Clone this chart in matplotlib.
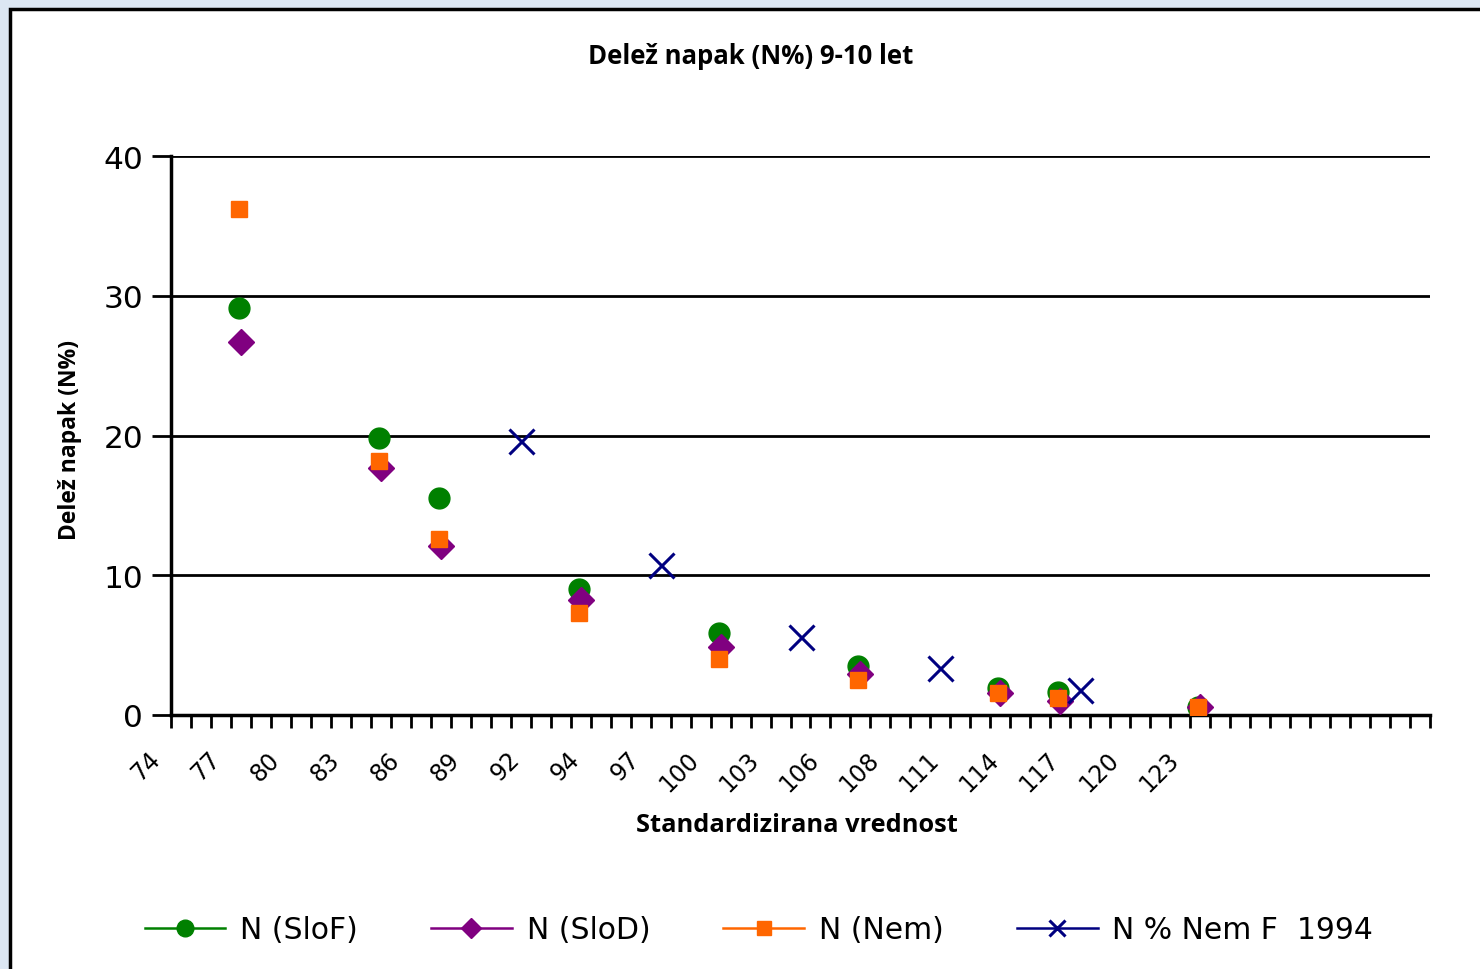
import matplotlib
matplotlib.use('Agg')
import numpy as np
import matplotlib.pyplot as plt
from matplotlib.patches import Rectangle
import matplotlib.transforms as mtransforms

# kategorije (63 kategorij, oznaka na vsako tretjo)
n_kat = 63
oznake = ['74', '77', '80', '83', '86', '89', '92', '94', '97', '100',
          '103', '106', '108', '111', '114', '117', '120', '123']

# podatki (indeks kategorije, delez napak)
kat_slo = [3, 10, 13, 20, 27, 34, 41, 44, 51]
slo_f = [29.1, 19.8, 15.5, 9.0, 5.9, 3.5, 1.9, 1.65, 0.6]
slo_d = [26.7, 17.7, 12.1, 8.2, 4.9, 2.9, 1.6, 1.0, 0.55]
nem = [36.2, 18.2, 12.6, 7.3, 4.0, 2.5, 1.55, 1.25, 0.55]

kat_nem94 = [17, 24, 31, 38, 45]
nem_f_1994 = [19.6, 10.7, 5.6, 3.35, 1.8]

fig = plt.figure(figsize=(14.8, 9.7), dpi=100)
fig.patch.set_facecolor('#dce7f3')
# okvir grafikona
fig.patches.append(Rectangle((10/1480, -0.1), 1.1, (960 + 97)/970, transform=fig.transFigure,
                             facecolor='white', edgecolor='black', linewidth=2.5, zorder=-5))

ax = fig.add_axes([171/1480, (970-716)/970, (1430-171)/1480, (716-157)/970])
ax.set_zorder(2)
ax.set_facecolor('white')

x = np.array(kat_slo) + 0.5
x2 = np.array(kat_nem94) + 0.5
ax.plot(x - 0.1, slo_f, linestyle='none', marker='o', color='#008000', ms=15,
        label='N (SloF)', zorder=3)
ax.plot(x, slo_d, linestyle='none', marker='D', color='#800080', ms=13,
        label='N (SloD)', zorder=4)
ax.plot(x - 0.1, nem, linestyle='none', marker='s', color='#FF6600', ms=12,
        label='N (Nem)', zorder=5)
ax.plot(x2, nem_f_1994, linestyle='none', marker='x', color='#000080', ms=18, mew=2.2,
        label='N % Nem F  1994', zorder=6)

ax.set_xlim(0, n_kat)
ax.set_ylim(0, 40)
ax.set_yticks([0, 10, 20, 30, 40])
ax.yaxis.grid(True, color='black', linewidth=2)
ax.set_axisbelow(True)
ax.tick_params(axis='y', labelsize=22.5, length=14, width=2, pad=6)

ax.set_xticks(np.arange(0, n_kat + 1), minor=True)
ax.set_xticks(np.arange(len(oznake)) * 3 + 0.5)
ax.set_xticklabels(oznake, rotation=45, ha='right', va='center', rotation_mode='anchor', fontsize=17)
ax.tick_params(axis='x', which='major', length=0, pad=29)
ax.tick_params(axis='x', which='minor', length=9, width=2, direction='out')
offset = mtransforms.ScaledTranslation(-25/100, 0, fig.dpi_scale_trans)
for lab in ax.get_xticklabels():
    lab.set_transform(lab.get_transform() + offset)

for s in ['top', 'right']:
    ax.spines[s].set_visible(False)
for s in ['left', 'bottom']:
    ax.spines[s].set_linewidth(2.5)

fig.text(751/1480, 1 - 56/970, 'Delež napak (N%) 9-10 let', ha='center', va='center',
         fontsize=18.5, fontweight='bold', family='Open Sans')
fig.text(797/1480, 1 - 826/970, 'Standardizirana vrednost', ha='center', va='center',
         fontsize=18.3, fontweight='bold', family='Open Sans')
fig.text(70/1480, 1 - 440/970, 'Delež napak (N%)', ha='center', va='center', rotation=90,
         fontsize=16.5, fontweight='bold', family='Open Sans')

# legenda s crtami
h = []
for ln in ax.get_lines():
    c = ln.get_color()
    ms = ln.get_markersize() * (0.65 if ln.get_marker() == 'x' else 0.8)
    h.append(plt.Line2D([], [], color=c, marker=ln.get_marker(), ms=ms,
                        mew=ln.get_markeredgewidth(), linewidth=1.8))
fig.legend(h, [l.get_label() for l in ax.get_lines()], loc='center', ncol=4,
           bbox_to_anchor=(759/1480, 1 - 931/970), frameon=False, fontsize=21.5,
           handlelength=2.7, columnspacing=2.45, handletextpad=0.5)

fig.savefig('out.png', dpi=100, facecolor=fig.get_facecolor())
